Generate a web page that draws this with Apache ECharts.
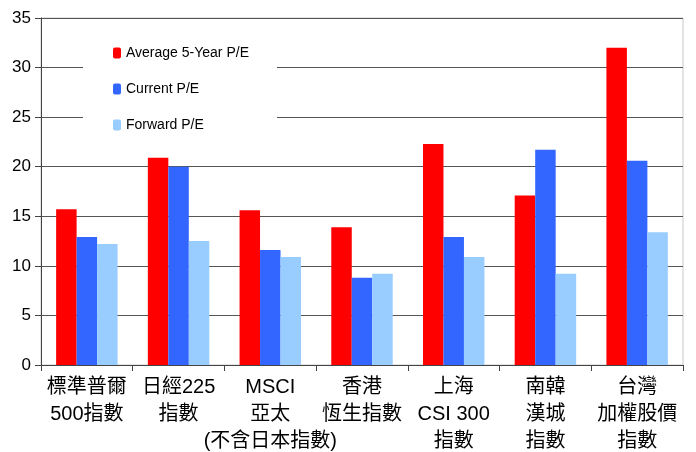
<!DOCTYPE html>
<html><head><meta charset="utf-8">
<script src="https://cdn.jsdelivr.net/npm/echarts@6/dist/echarts.min.js"></script>
<style>html,body{margin:0;padding:0;background:#fff}#c{width:696px;height:452px}</style>
</head><body><div id="c"></div>
<script>
const categories = ['標準普爾\n500指數', '日經225\n指數', 'MSCI\n亞太\n(不含日本指數)', '香港\n恆生指數', '上海\nCSI 300\n指數', '南韓\n漢城\n指數', '台灣\n加權股價\n指數'];
const avg5y = [15.7, 20.9, 15.6, 13.9, 22.3, 17.1, 32.0];
const currentPE = [12.9, 20.0, 11.6, 8.8, 12.9, 21.7, 20.6];
const forwardPE = [12.2, 12.5, 10.9, 9.2, 10.9, 9.2, 13.4];
const seriesNames = ['Average 5-Year P/E', 'Current P/E', 'Forward P/E'];
const colors = ['#FF0000', '#3366FF', '#99CCFF'];
const yTicks = {min: 0, max: 35, interval: 5};

const font = '"Liberation Sans", Arial, "Noto Sans CJK TC", sans-serif';
const chart = echarts.init(document.getElementById('c'), null, {renderer: 'canvas'});
chart.setOption({
  animation: false,
  textStyle: {fontFamily: font},
  grid: {left: 41, right: 13, top: 18, bottom: 87, show: true, borderColor: '#c8c8c8', borderWidth: 1, containLabel: false, outerBoundsMode: 'none'},
  legend: {
    orient: 'vertical', left: 83, top: 34,
    padding: [12, 28, 12, 30],
    backgroundColor: '#fff',
    itemWidth: 8, itemHeight: 11, itemGap: 22,
    textStyle: {fontSize: 14, color: '#000', fontFamily: font},
    data: seriesNames,
    z: 3
  },
  xAxis: {
    type: 'category', data: categories,
    axisLine: {lineStyle: {color: '#444', width: 1}},
    axisTick: {show: true, length: 6, lineStyle: {color: '#444'}},
    axisLabel: {interval: 0, fontSize: 20, color: '#000', lineHeight: 27, margin: 9, fontFamily: font},
    z: 2
  },
  yAxis: {
    type: 'value', min: yTicks.min, max: yTicks.max, interval: yTicks.interval,
    axisLine: {show: true, lineStyle: {color: '#444'}},
    axisTick: {show: true, length: 6, lineStyle: {color: '#444'}},
    axisLabel: {fontSize: 17, color: '#000', margin: 10, fontFamily: font},
    splitLine: {lineStyle: {color: '#555', width: 1}}
  },
  series: [
    {name: seriesNames[0], type: 'bar', data: avg5y, itemStyle: {color: colors[0]}, barGap: '0%', barCategoryGap: '33%'},
    {name: seriesNames[1], type: 'bar', data: currentPE, itemStyle: {color: colors[1]}, barGap: '0%', barCategoryGap: '33%'},
    {name: seriesNames[2], type: 'bar', data: forwardPE, itemStyle: {color: colors[2]}, barGap: '0%', barCategoryGap: '33%'}
  ]
});
</script></body></html>
